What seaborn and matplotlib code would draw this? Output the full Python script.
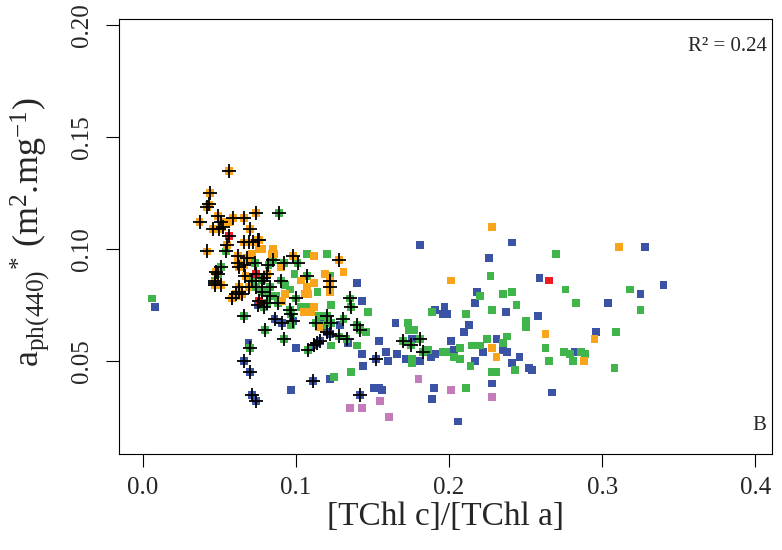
"""
a_ph(440)* vs [TChl c]/[TChl a] scatter, panel B.
"""
import numpy as np
import pandas as pd
import matplotlib
matplotlib.use('Agg')
import matplotlib.pyplot as plt
import seaborn as sns

# ---- data ----
orange_x = [0.056, 0.044, 0.043, 0.042, 0.037, 0.049, 0.059, 0.066, 0.074, 0.051, 0.052, 0.050,
            0.046, 0.070, 0.055, 0.066, 0.069, 0.075, 0.072, 0.042, 0.062, 0.068, 0.062, 0.063,
            0.066, 0.048, 0.047, 0.051, 0.058, 0.061, 0.063, 0.098, 0.128, 0.122, 0.076, 0.122,
            0.047, 0.067, 0.081, 0.069, 0.063, 0.065,
            0.056, 0.071, 0.078, 0.085, 0.086, 0.084, 0.076, 0.112, 0.090, 0.131, 0.119, 0.112,
            0.093, 0.107, 0.108, 0.106, 0.105, 0.110, 0.112, 0.122, 0.115, 0.201, 0.228, 0.311,
            0.263, 0.295, 0.228, 0.231, 0.288, 0.062, 0.091, 0.103]
orange_y = [0.135, 0.125, 0.120, 0.119, 0.112, 0.115, 0.114, 0.114, 0.116, 0.112, 0.110, 0.109,
            0.109, 0.109, 0.102, 0.103, 0.103, 0.104, 0.103, 0.099, 0.097, 0.096, 0.094, 0.092,
            0.093, 0.090, 0.085, 0.084, 0.078, 0.080, 0.081, 0.097, 0.095, 0.086, 0.104, 0.083,
            0.084, 0.088, 0.089, 0.083, 0.083, 0.080,
            0.112, 0.098, 0.100, 0.100, 0.098, 0.098, 0.100, 0.097, 0.092, 0.090, 0.089, 0.085,
            0.080, 0.083, 0.080, 0.080, 0.072, 0.072, 0.074, 0.081, 0.065, 0.086, 0.110, 0.101,
            0.062, 0.060, 0.056, 0.052, 0.050, 0.079, 0.077, 0.086]
orange_cross = [1] * 42 + [0] * 32

green_x = [0.089, 0.054, 0.073, 0.051, 0.049, 0.047, 0.101, 0.107, 0.058, 0.066, 0.080, 0.070,
           0.092, 0.108, 0.083, 0.088, 0.100, 0.096, 0.097, 0.135, 0.136, 0.120, 0.113, 0.123,
           0.131, 0.140, 0.142, 0.128, 0.133, 0.170, 0.175, 0.181, 0.183, 0.085, 0.092, 0.082,
           0.071, 0.079, 0.078, 0.090, 0.079, 0.081, 0.074, 0.078, 0.083,
           0.006, 0.107, 0.120, 0.122, 0.114, 0.108, 0.103, 0.115, 0.123, 0.097, 0.147, 0.146,
           0.140, 0.123, 0.136, 0.125, 0.173, 0.174, 0.177, 0.176, 0.176, 0.186, 0.196, 0.198,
           0.207, 0.207, 0.203, 0.215, 0.220, 0.225, 0.238, 0.235, 0.214, 0.243, 0.228, 0.231,
           0.211, 0.189, 0.211, 0.220, 0.227, 0.235, 0.241, 0.244, 0.228, 0.250, 0.250, 0.270,
           0.276, 0.318, 0.283, 0.325, 0.309, 0.225, 0.263, 0.275, 0.279, 0.286, 0.289, 0.281,
           0.265, 0.308, 0.093, 0.096, 0.087, 0.099, 0.121, 0.118]
green_y = [0.116, 0.099, 0.094, 0.092, 0.089, 0.086, 0.094, 0.088, 0.078, 0.070, 0.064, 0.056,
           0.060, 0.055, 0.079, 0.076, 0.078, 0.073, 0.071, 0.078, 0.074, 0.070, 0.067, 0.067,
           0.069, 0.066, 0.064, 0.061, 0.060, 0.059, 0.057, 0.060, 0.054, 0.095, 0.094, 0.093,
           0.086, 0.087, 0.086, 0.086, 0.074, 0.076, 0.083, 0.081, 0.083,
           0.078, 0.098, 0.098, 0.088, 0.081, 0.074, 0.074, 0.070, 0.075, 0.066, 0.072, 0.063,
           0.057, 0.057, 0.045, 0.043, 0.067, 0.064, 0.064, 0.051, 0.049, 0.055, 0.054, 0.054,
           0.056, 0.051, 0.052, 0.057, 0.057, 0.060, 0.061, 0.058, 0.048, 0.046, 0.045, 0.045,
           0.038, 0.072, 0.071, 0.079, 0.088, 0.080, 0.081, 0.075, 0.073, 0.068, 0.065, 0.098,
           0.082, 0.082, 0.076, 0.073, 0.063, 0.060, 0.056, 0.054, 0.053, 0.054, 0.053, 0.050,
           0.050, 0.047, 0.084, 0.082, 0.079, 0.089, 0.069, 0.066]
green_cross = [1] * 45 + [0] * 68

blue_x = [0.066, 0.070, 0.071, 0.074, 0.086, 0.091, 0.098, 0.120, 0.122, 0.116, 0.114, 0.112,
          0.152, 0.111, 0.142, 0.075,
          0.008, 0.069, 0.100, 0.140, 0.143, 0.129, 0.134, 0.143, 0.144, 0.122, 0.097, 0.151,
          0.116, 0.181, 0.241, 0.226, 0.328, 0.259, 0.340, 0.325, 0.218, 0.217, 0.304, 0.191,
          0.197, 0.196, 0.199, 0.237, 0.258, 0.213, 0.210, 0.165, 0.176, 0.154, 0.159, 0.160,
          0.166, 0.172, 0.181, 0.188, 0.191, 0.201, 0.203, 0.231, 0.296, 0.222, 0.235, 0.238,
          0.246, 0.217, 0.241, 0.252, 0.254, 0.282, 0.228, 0.190, 0.154, 0.156, 0.189, 0.206,
          0.267]
blue_y = [0.050, 0.045, 0.035, 0.032, 0.069, 0.067, 0.068, 0.063, 0.062, 0.059, 0.058, 0.057,
          0.051, 0.041, 0.035, 0.075,
          0.074, 0.058, 0.056, 0.085, 0.077, 0.066, 0.058, 0.053, 0.048, 0.042, 0.037, 0.038,
          0.069, 0.102, 0.103, 0.096, 0.101, 0.087, 0.084, 0.080, 0.081, 0.076, 0.076, 0.073,
          0.074, 0.071, 0.071, 0.072, 0.070, 0.066, 0.063, 0.067, 0.060, 0.059, 0.054, 0.050,
          0.053, 0.051, 0.050, 0.052, 0.053, 0.059, 0.055, 0.060, 0.063, 0.054, 0.055, 0.054,
          0.052, 0.050, 0.049, 0.047, 0.046, 0.054, 0.040, 0.038, 0.038, 0.037, 0.033, 0.023,
          0.036]
blue_cross = [1] * 16 + [0] * 61

red_x = [0.056, 0.074, 0.076, 0.265]
red_y = [0.106, 0.089, 0.077, 0.086]
red_cross = [1, 1, 1, 0]

pink_x = [0.135, 0.143, 0.155, 0.161, 0.180, 0.201, 0.228]
pink_y = [0.029, 0.029, 0.032, 0.025, 0.042, 0.037, 0.034]
pink_cross = [0] * 7

colors = {'blue': '#3a53a4', 'green': '#3fb54b', 'orange': '#f9a51b',
          'pink': '#c47bb9', 'red': '#ec1c24'}

frames = []
for name, xs, ys, cr in [('blue', blue_x, blue_y, blue_cross),
                         ('green', green_x, green_y, green_cross),
                         ('orange', orange_x, orange_y, orange_cross),
                         ('pink', pink_x, pink_y, pink_cross),
                         ('red', red_x, red_y, red_cross)]:
    frames.append(pd.DataFrame({'x': xs, 'y': ys, 'group': name, 'cross': cr}))
df = pd.concat(frames, ignore_index=True)

sns.set_style('ticks')
plt.rcParams['font.family'] = ['Liberation Serif', 'DejaVu Serif']
plt.rcParams['mathtext.fontset'] = 'custom'
plt.rcParams['mathtext.rm'] = 'Liberation Serif'
plt.rcParams['mathtext.it'] = 'Liberation Serif:italic'

fig = plt.figure(figsize=(7.82, 5.5), dpi=100)
ax = fig.add_axes([0.152, 0.175, 0.835, 0.791])

sns.scatterplot(data=df, x='x', y='y', hue='group', palette=colors, marker='s',
                s=32, linewidth=0, legend=False, ax=ax, zorder=2)
crossed = df[df['cross'] == 1]
sns.scatterplot(data=crossed, x='x', y='y', color='black', marker='+',
                s=95, linewidth=1.3, legend=False, ax=ax, zorder=3)

ax.set_xlim(-0.0157, 0.4108)
ax.set_ylim(0.0086, 0.2030)
ax.set_xticks([0.0, 0.1, 0.2, 0.3, 0.4])
ax.set_xticklabels(['0.0', '0.1', '0.2', '0.3', '0.4'])
ax.set_yticks([0.05, 0.10, 0.15, 0.20])
ax.set_yticklabels(['0.05', '0.10', '0.15', '0.20'], rotation=90, va='center')
ax.tick_params(axis='both', direction='out', length=9.5, width=0.8, labelsize=18, color='black')
ax.tick_params(axis='x', pad=7)
ax.tick_params(axis='y', pad=9)
for sp in ax.spines.values():
    sp.set_visible(True)
    sp.set_linewidth(0.8)
    sp.set_color('black')

ax.set_xlabel('[TChl c]/[TChl a]', fontsize=24, labelpad=2)
ax.set_ylabel(r'a$_{\mathregular{ph(440)}}$$^{\mathregular{*}}$ (m$^{\mathregular{2}}$.mg$^{\mathregular{-1}}$)',
              fontsize=26)
ax.yaxis.set_label_coords(-0.102, 0.51)

ax.text(0.992, 0.935, 'R² = 0.24', transform=ax.transAxes, ha='right', va='center', fontsize=15)
ax.text(0.992, 0.065, 'B', transform=ax.transAxes, ha='right', va='center', fontsize=15)

fig.savefig('out.png', dpi=100)
